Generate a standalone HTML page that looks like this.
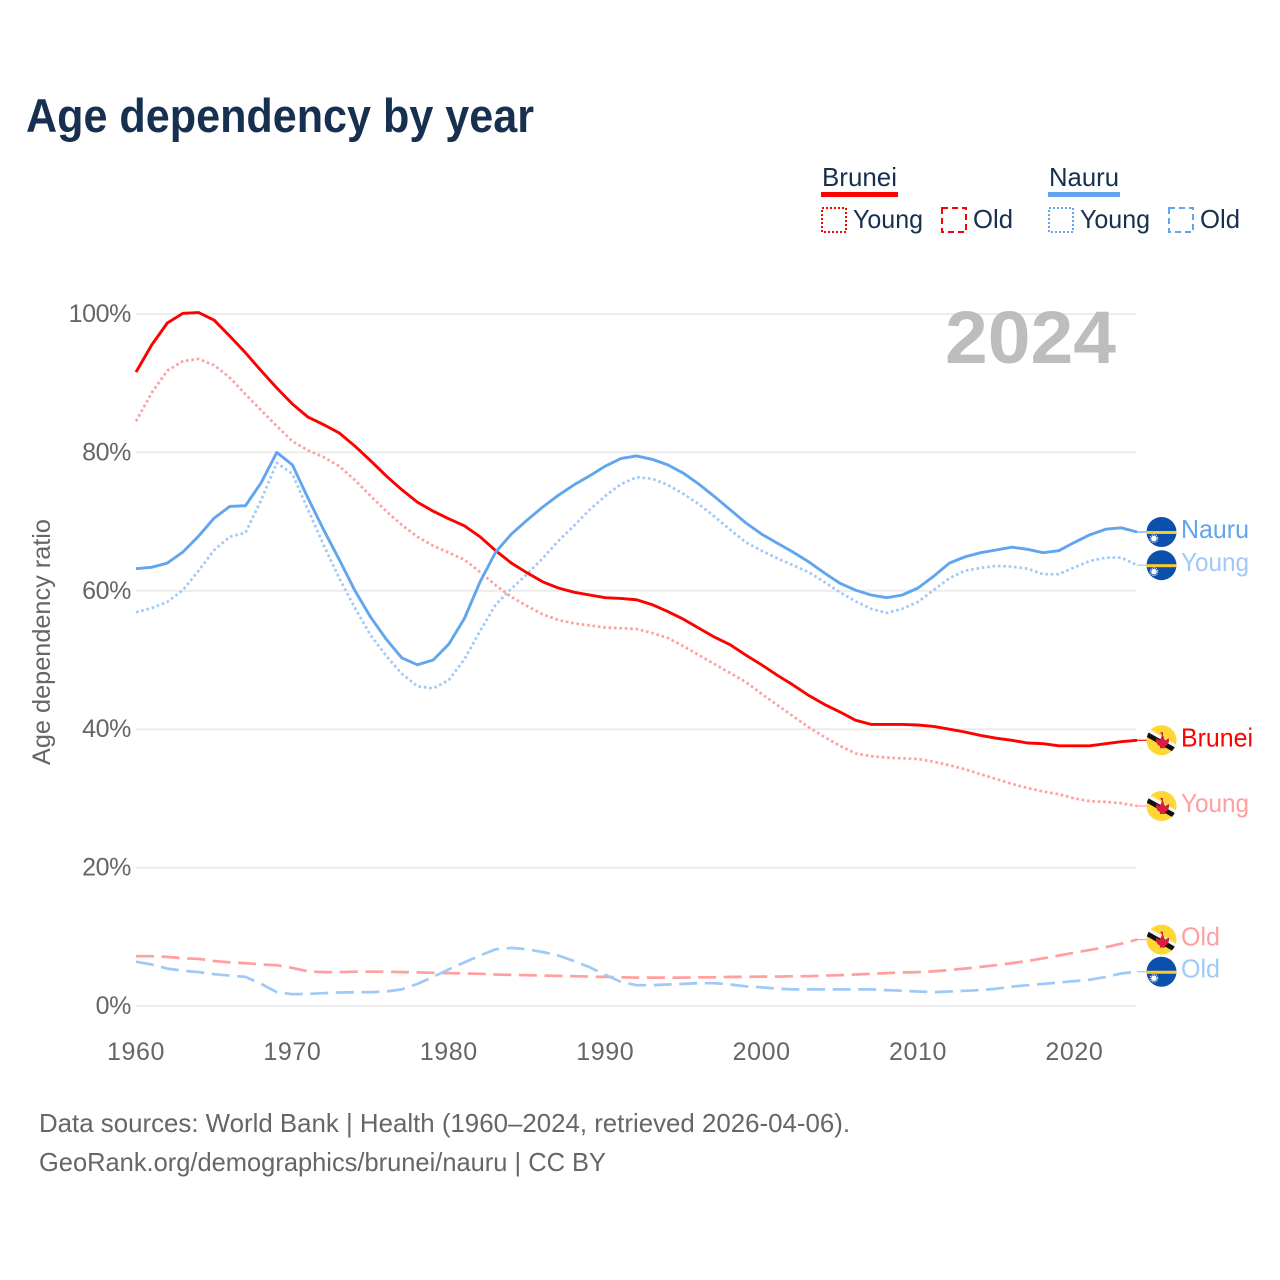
<!DOCTYPE html>
<html lang="en">
<head>
<meta charset="utf-8">
<title>Age dependency by year</title>
<style>
html,body{margin:0;padding:0;background:#fff;}
svg{display:block;font-family:"Liberation Sans",Arial,sans-serif;}
</style>
</head>
<body>
<svg id="chart" xmlns="http://www.w3.org/2000/svg" width="1280" height="1280" viewBox="0 0 1280 1280">
  <defs>
    <clipPath id="flag-clip"><circle cx="0" cy="0" r="15"/></clipPath>
    <symbol id="flag-brunei" overflow="visible">
      <g clip-path="url(#flag-clip)">
        <rect x="-16" y="-16" width="32" height="32" fill="#fdd835"/>
        <polygon points="-16,-13.5 -16,-7.5 16,11 16,5" fill="#f6f6f6"/>
        <polygon points="-16,-9.5 -16,-4 16,14 16,8.5" fill="#111"/>
        <path d="M-1.5,-8 h3 v3 l2,5 l4,-2 l0,3 q-1,4 -4,5 v2 h-5 v-2 q-3,-1 -4,-5 l0,-3 l4,2 l2,-5 z" fill="#d81e3a"/>
      </g>
    </symbol>
    <symbol id="flag-nauru" overflow="visible">
      <g clip-path="url(#flag-clip)">
        <rect x="-16" y="-16" width="32" height="32" fill="#0a50ac"/>
        <rect x="-16" y="-1" width="32" height="3" fill="#ffc928"/>
        <circle cx="-7.5" cy="6.5" r="2.8" fill="#fff"/>
        <circle cx="-7.5" cy="6.5" r="3.8" fill="none" stroke="#fff" stroke-width="1.1" stroke-dasharray="1 1.2"/>
      </g>
    </symbol>
  </defs>

  <text x="26" y="132" font-size="47" font-weight="700" fill="#18304f" textLength="508" lengthAdjust="spacingAndGlyphs">Age dependency by year</text>

  <g>
    <g>
      <text x="822" y="186" font-size="26" fill="#18304f" textLength="75" lengthAdjust="spacingAndGlyphs">Brunei</text>
      <rect x="821" y="192" width="77" height="5" fill="#ff0000"/>
      <rect x="822" y="208" width="24" height="24" fill="none" stroke="#ff0000" stroke-width="2" stroke-dasharray="2 2"/>
      <text x="853" y="228" font-size="26" fill="#18304f" textLength="70" lengthAdjust="spacingAndGlyphs">Young</text>
      <rect x="942" y="208" width="24" height="24" fill="none" stroke="#ff0000" stroke-width="2" stroke-dasharray="6 4"/>
      <text x="973" y="228" font-size="26" fill="#18304f" textLength="40" lengthAdjust="spacingAndGlyphs">Old</text>
    </g>
    <g>
      <text x="1049" y="186" font-size="26" fill="#18304f" textLength="70" lengthAdjust="spacingAndGlyphs">Nauru</text>
      <rect x="1048" y="192" width="72" height="5" fill="#60a5ee"/>
      <rect x="1049" y="208" width="24" height="24" fill="none" stroke="#60a5ee" stroke-width="2" stroke-dasharray="2 2"/>
      <text x="1080" y="228" font-size="26" fill="#18304f" textLength="70" lengthAdjust="spacingAndGlyphs">Young</text>
      <rect x="1169" y="208" width="24" height="24" fill="none" stroke="#60a5ee" stroke-width="2" stroke-dasharray="6 4"/>
      <text x="1200" y="228" font-size="26" fill="#18304f" textLength="40" lengthAdjust="spacingAndGlyphs">Old</text>
    </g>
  </g>

  <g id="grid"></g>
  <g id="y-ticks"></g>
  <g id="x-ticks"></g>

  <text x="945" y="363" font-size="74" font-weight="700" fill="#bdbdbd" textLength="171" lengthAdjust="spacingAndGlyphs">2024</text>

  <text transform="translate(50,765) rotate(-90)" font-size="25" fill="#666666" textLength="246" lengthAdjust="spacingAndGlyphs">Age dependency ratio</text>

  <g id="series"></g>
  <g id="ends"></g>

  <text x="39" y="1132" font-size="26" fill="#666666" textLength="811" lengthAdjust="spacingAndGlyphs">Data sources: World Bank | Health (1960–2024, retrieved 2026-04-06).</text>
  <text x="39" y="1171" font-size="26" fill="#666666" textLength="567" lengthAdjust="spacingAndGlyphs">GeoRank.org/demographics/brunei/nauru | CC BY</text>
</svg>
<script>
var startYear = 1960;
var yTickValues = [0, 20, 40, 60, 80, 100];
var yTickLabels = ["0%", "20%", "40%", "60%", "80%", "100%"];
var xTickValues = [1960, 1970, 1980, 1990, 2000, 2010, 2020];

var bruneiTotal = [91.6,95.5,98.7,100.1,100.2,99.1,96.8,94.4,91.8,89.3,87,85.1,84,82.8,80.9,78.8,76.6,74.6,72.8,71.5,70.4,69.4,67.8,65.8,64,62.6,61.3,60.4,59.8,59.4,59,58.9,58.7,58,57,55.9,54.6,53.3,52.2,50.7,49.3,47.8,46.4,44.9,43.6,42.5,41.3,40.7,40.7,40.7,40.6,40.4,40,39.6,39.1,38.7,38.4,38,37.9,37.6,37.6,37.6,37.9,38.2,38.4];
var bruneiYoung = [84.5,88.6,91.8,93.2,93.5,92.6,90.8,88.4,86.1,83.8,81.6,80.3,79.3,78,76,73.7,71.5,69.5,67.8,66.5,65.5,64.5,62.7,60.8,59.1,57.8,56.6,55.8,55.3,55,54.7,54.6,54.5,53.9,53.2,52,50.7,49.4,48.1,46.8,45.1,43.5,41.9,40.3,38.9,37.6,36.5,36.1,35.9,35.8,35.7,35.3,34.8,34.2,33.5,32.8,32.1,31.5,31,30.6,30,29.6,29.5,29.3,28.9];
var bruneiOld = [7.2,7.2,7.1,6.9,6.8,6.5,6.3,6.2,6,5.9,5.5,5,4.9,4.9,4.95,4.95,4.95,4.9,4.85,4.8,4.75,4.7,4.65,4.55,4.5,4.45,4.4,4.35,4.3,4.25,4.2,4.15,4.1,4.1,4.1,4.1,4.15,4.15,4.2,4.2,4.25,4.25,4.3,4.3,4.4,4.45,4.55,4.65,4.75,4.85,4.9,5,5.2,5.4,5.65,5.9,6.2,6.5,6.9,7.3,7.7,8.1,8.5,9,9.6];
var nauruTotal = [63.2,63.4,64,65.6,67.9,70.5,72.2,72.3,75.6,80,78.2,73.4,68.8,64.5,60,56.2,53,50.3,49.3,50,52.3,56,61.3,65.6,68.2,70.2,72.1,73.8,75.3,76.6,78,79.1,79.5,79,78.2,77,75.4,73.6,71.7,69.8,68.2,66.9,65.6,64.2,62.6,61.1,60.1,59.4,59,59.4,60.4,62.1,64,64.9,65.5,65.9,66.3,66,65.5,65.8,67,68.1,68.9,69.1,68.5];
var nauruYoung = [56.9,57.5,58.4,60.1,62.9,65.9,67.8,68.4,73.1,78.5,76.9,71.7,66.6,61.8,57.5,53.6,50.6,48,46.2,45.9,47.1,50.1,54.2,58,60.3,62.4,64.7,67.2,69.4,71.7,73.7,75.4,76.4,76.2,75.3,74,72.5,70.7,68.8,67,65.8,64.7,63.7,62.7,61.3,59.8,58.5,57.4,56.8,57.4,58.4,60.1,61.8,62.9,63.3,63.6,63.5,63.2,62.4,62.4,63.4,64.3,64.8,64.8,63.7];
var nauruOld = [6.4,6,5.4,5.1,4.9,4.6,4.4,4.2,3.2,2,1.7,1.75,1.85,1.95,2,2,2.1,2.4,3.2,4.2,5.3,6.3,7.3,8.2,8.4,8.2,7.8,7.3,6.5,5.6,4.5,3.5,3,3,3.1,3.2,3.3,3.3,3.1,2.85,2.7,2.5,2.4,2.4,2.4,2.4,2.4,2.4,2.3,2.2,2.1,2,2.1,2.2,2.3,2.5,2.8,3,3.2,3.4,3.6,3.8,4.2,4.7,4.95];

var NS = "http://www.w3.org/2000/svg";
function xScale(year){ return 136 + (year - 1960) * 15.64; }
function yScale(v){ return 1006 - v * 6.92; }
function mk(tag, attrs, parent){
  var el = document.createElementNS(NS, tag);
  for (var k in attrs) el.setAttribute(k, attrs[k]);
  parent.appendChild(el);
  return el;
}

var gridG = document.getElementById("grid");
var yG = document.getElementById("y-ticks");
var xG = document.getElementById("x-ticks");
yTickValues.forEach(function(v, i){
  var ln = mk("line", {x1:136, x2:1136, y1:yScale(v), y2:yScale(v), stroke:"#ececec", "stroke-width":2}, gridG);
  
  
  var t = mk("text", {x:131, y:yScale(v)+8, "text-anchor":"end", "font-size":25, fill:"#666666", "letter-spacing":"-0.4"}, yG);
  
  
  t.textContent = yTickLabels[i];
});
xTickValues.forEach(function(yr){
  var t = mk("text", {x:xScale(yr), y:1060, "text-anchor":"middle", "font-size":25, fill:"#666666", "letter-spacing":"0.6"}, xG);
  
  
  t.textContent = String(yr);
});

var DOT = "2.6 2.8", DASH = "18 7.6";
var seriesG = document.getElementById("series");
var endsG = document.getElementById("ends");
function drawSeries(values, color, dash, width, name){
  var d = values.map(function(v, i){
    return (i ? "L" : "M") + xScale(startYear + i).toFixed(1) + "," + yScale(v).toFixed(1);
  }).join(" ");
  var p = mk("path", {d:d, fill:"none", stroke:color, "stroke-width":width, "stroke-linejoin":"round"}, seriesG);
  if (dash) p.setAttribute("stroke-dasharray", dash);
  
  
}
function drawEnd(values, color, flag, label, name, textLen){
  var y = yScale(values[values.length - 1]);
  var lead = mk("line", {x1:1137, x2:1147, y1:y, y2:y, stroke:color, "stroke-width":1.2}, endsG);
  
  
  var u = mk("use", {href:"#" + flag, x:1161.5, y:y}, endsG);
  
  
  var t = mk("text", {x:1181, y:y + 6, "font-size":26, fill:color, textLength:textLen, lengthAdjust:"spacingAndGlyphs"}, endsG);
  
  
  t.textContent = label;
}

var RED = "#ff0000", BLUE = "#60a5ee", LRED = "#ff9f9f", LBLUE = "#9fc9f6";
drawSeries(bruneiYoung, LRED, DOT, 2.7, "brunei-young-line");
drawSeries(bruneiOld, LRED, DASH, 2.7, "brunei-old-line");
drawSeries(nauruYoung, LBLUE, DOT, 2.7, "nauru-young-line");
drawSeries(nauruOld, LBLUE, DASH, 2.7, "nauru-old-line");
drawSeries(bruneiTotal, RED, null, 2.9, "brunei-total-line");
drawSeries(nauruTotal, BLUE, null, 2.9, "nauru-total-line");

drawEnd(nauruTotal, BLUE, "flag-nauru", "Nauru", "nauru-total", 68);
drawEnd(nauruYoung, LBLUE, "flag-nauru", "Young", "nauru-young", 68);
drawEnd(bruneiTotal, RED, "flag-brunei", "Brunei", "brunei-total", 72);
drawEnd(bruneiYoung, LRED, "flag-brunei", "Young", "brunei-young", 68);
drawEnd(bruneiOld, LRED, "flag-brunei", "Old", "brunei-old", 39);
drawEnd(nauruOld, LBLUE, "flag-nauru", "Old", "nauru-old", 39);
</script>
</body>
</html>
